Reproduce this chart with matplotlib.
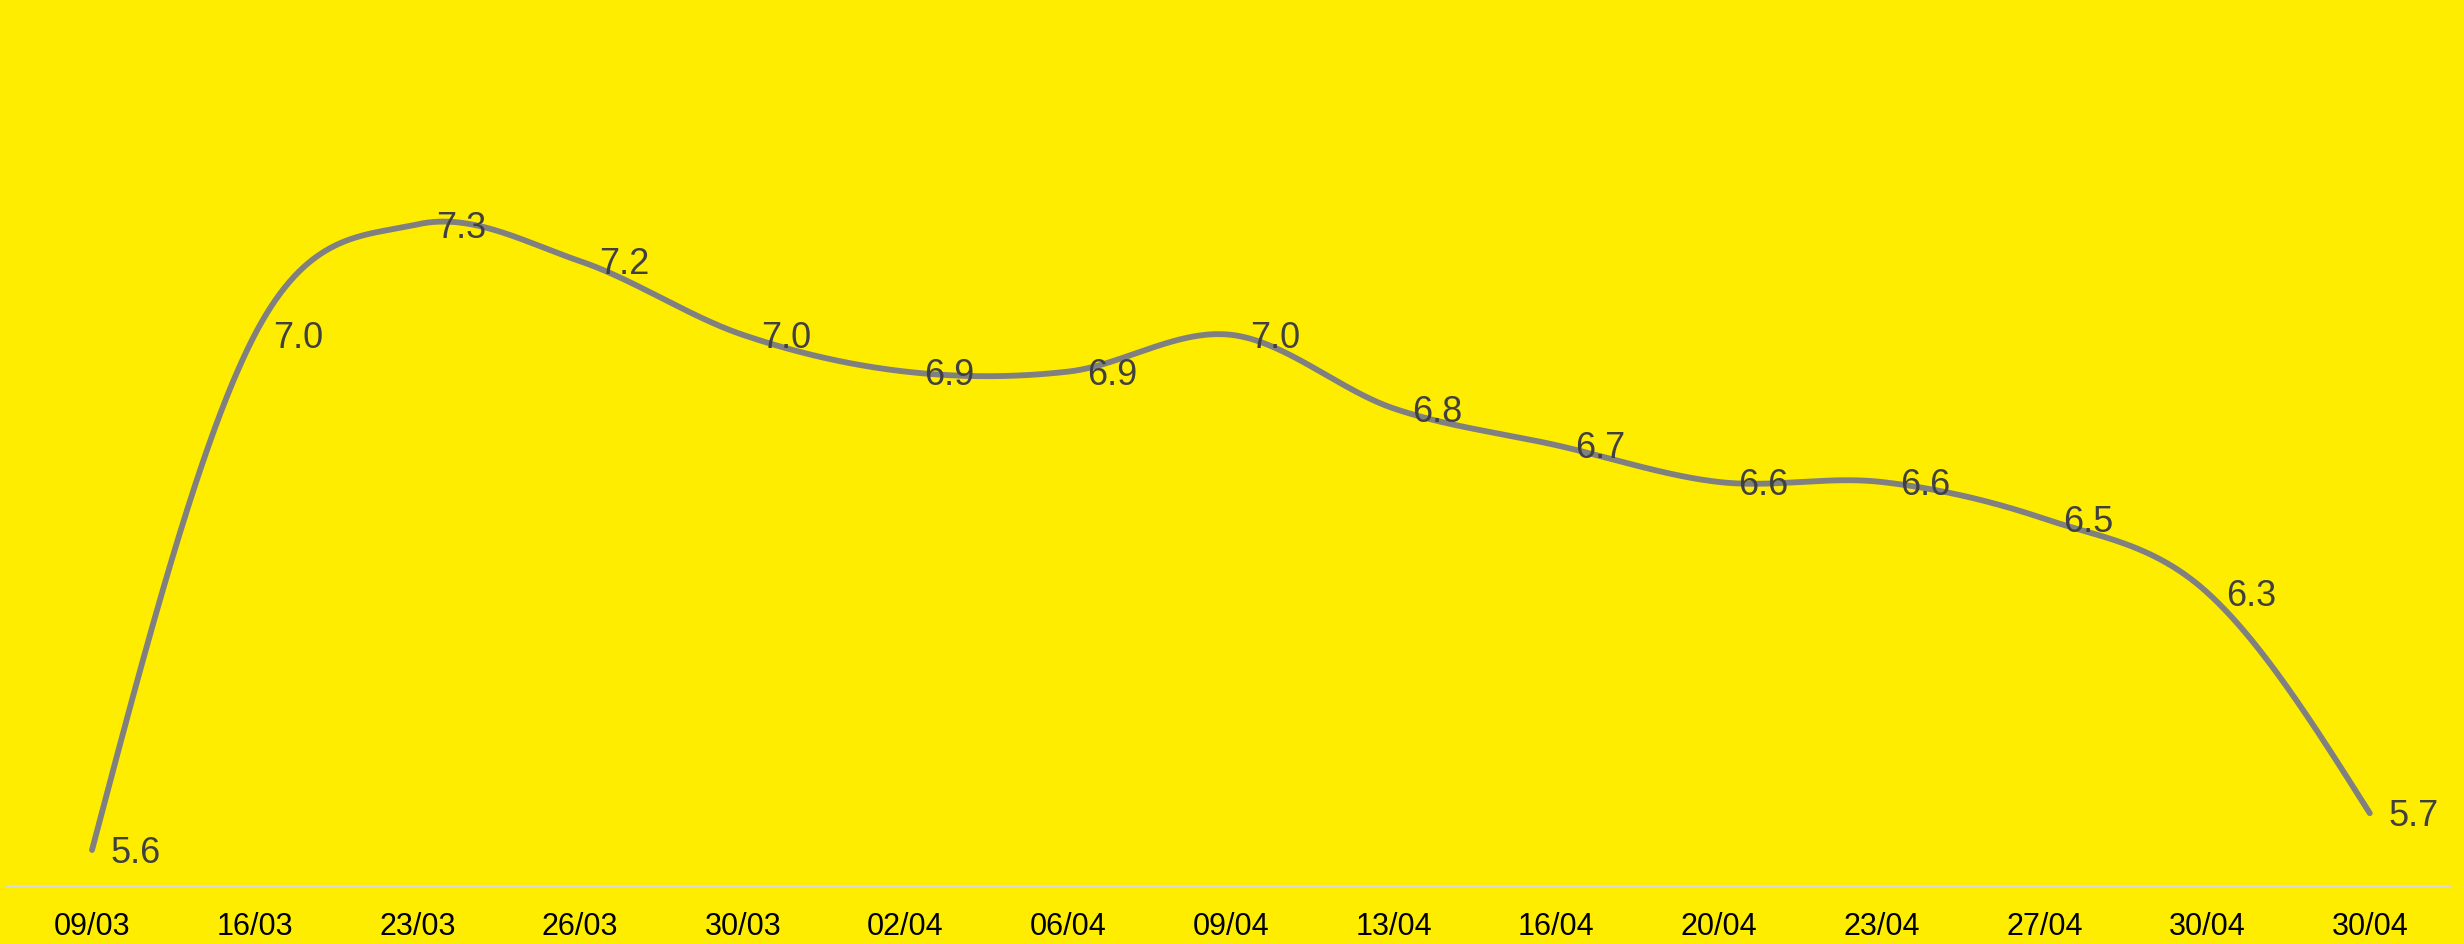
import numpy as np
import matplotlib
matplotlib.use("Agg")
import matplotlib.pyplot as plt

# ---- data ----
dates = ["09/03", "16/03", "23/03", "26/03", "30/03", "02/04", "06/04", "09/04",
         "13/04", "16/04", "20/04", "23/04", "27/04", "30/04", "30/04"]
values = [5.6, 7.0, 7.3, 7.2, 7.0, 6.9, 6.9, 7.0, 6.8, 6.7, 6.6, 6.6, 6.5, 6.3, 5.7]

BG = "#ffed00"
LINE = "#808080"
LABEL = "#404040"

plt.rcParams["font.family"] = ["Liberation Sans", "DejaVu Sans"]

W, H = 2464, 944
fig = plt.figure(figsize=(W / 100, H / 100), dpi=100)
fig.patch.set_facecolor(BG)
ax = fig.add_axes([6 / W, 58 / H, (2450 - 6) / W, 1 - 58 / H])
ax.set_facecolor(BG)

step = 162.7
ax.set_xlim(-(92 - 6) / step, 14 + (2450 - (92 + 14 * step)) / step)
ax.set_ylim(5.6 - 36 / 368, 5.6 + (944 - 94) / 368)

x = np.arange(len(values), dtype=float)
y = np.array(values, dtype=float)

# Catmull-Rom smoothing with natural (zero-curvature) end conditions
n = len(y)
m = np.zeros(n)
m[1:-1] = (y[2:] - y[:-2]) / 2.0
m[0] = (3 * (y[1] - y[0]) - m[1]) / 2.0
m[-1] = (3 * (y[-1] - y[-2]) - m[-2]) / 2.0
xs = np.linspace(0, n - 1, 3000)
idx = np.minimum(np.floor(xs).astype(int), n - 2)
t = xs - idx
h00 = 2 * t**3 - 3 * t**2 + 1
h10 = t**3 - 2 * t**2 + t
h01 = -2 * t**3 + 3 * t**2
h11 = t**3 - t**2
ys = h00 * y[idx] + h10 * m[idx] + h01 * y[idx + 1] + h11 * m[idx + 1]

ax.plot(xs, ys, color=LINE, lw=4.2, solid_capstyle="round", zorder=3)

for xi, v in zip(x, values):
    ax.annotate(f"{v:.1f}", (xi, v), xytext=(13.5, -9.5), textcoords="offset points",
                ha="left", va="baseline", fontsize=26, color=LABEL, zorder=4)

ax.set_xticks(x)
ax.set_xticklabels(dates, fontsize=22, color="black")
ax.tick_params(axis="x", length=0, pad=19)
ax.set_yticks([])
for s in ["top", "left", "right"]:
    ax.spines[s].set_visible(False)
ax.spines["bottom"].set_color("#d9d9d9")
ax.spines["bottom"].set_linewidth(1.5)

fig.savefig("out.png", dpi=100, facecolor=BG)
